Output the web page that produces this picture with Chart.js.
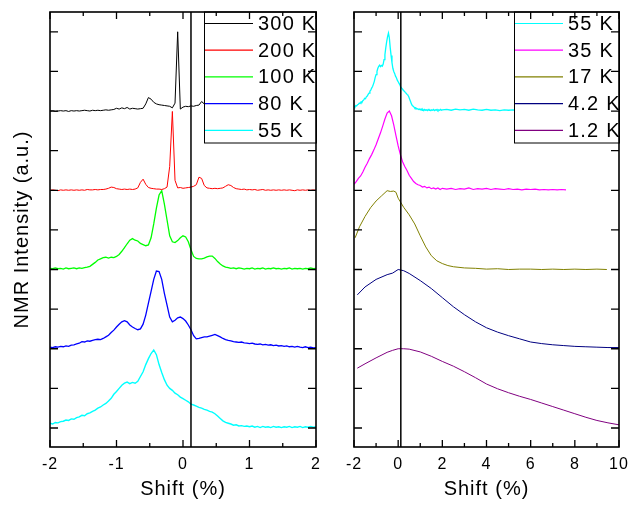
<!DOCTYPE html>
<html><head><meta charset="utf-8">
<script src="https://cdn.jsdelivr.net/npm/chart.js@4.4.1/dist/chart.umd.min.js"></script>
<style>
html,body{margin:0;padding:0;background:#fff;width:641px;height:506px;overflow:hidden}
#wl{position:absolute;left:0;top:0;width:330px;height:506px}
#wr{position:absolute;left:330px;top:0;width:311px;height:506px}
</style></head><body>
<div id="wl"><canvas id="cl"></canvas></div>
<div id="wr"><canvas id="cr"></canvas></div>
<script>
// ---------------- DATA ----------------
const labelsLeft = ['300 K','200 K','100 K','80 K','55 K'];
const labelsRight = ['55 K','35 K','17 K','4.2 K','1.2 K'];
const offsetsLeft = [8,6,4,2,0];
const offsetsRight = [8,6,4,2,0];
const refShift = 0.12;

const shiftLeft = [
-2.00,-1.96,-1.92,-1.88,-1.84,-1.80,-1.76,-1.72,-1.68,-1.64,
-1.60,-1.56,-1.52,-1.48,-1.44,-1.40,-1.36,-1.32,-1.28,-1.24,
-1.20,-1.16,-1.12,-1.08,-1.04,-1.00,-0.96,-0.92,-0.88,-0.84,
-0.80,-0.76,-0.72,-0.68,-0.64,-0.60,-0.56,-0.52,-0.48,-0.44,
-0.40,-0.36,-0.32,-0.28,-0.24,-0.20,-0.16,-0.12,-0.08,-0.04,
0.00,0.04,0.08,0.12,0.16,0.20,0.24,0.28,0.32,0.36,
0.40,0.44,0.48,0.52,0.56,0.60,0.64,0.68,0.72,0.76,
0.80,0.84,0.88,0.92,0.96,1.00,1.04,1.08,1.12,1.16,
1.20,1.24,1.28,1.32,1.36,1.40,1.44,1.48,1.52,1.56,
1.60,1.64,1.68,1.72,1.76,1.80,1.84,1.88,1.92,1.96,
2.00];

const int300K = [
0.00,0.01,-0.01,0.00,0.01,0.00,0.01,-0.01,0.01,0.00,
0.01,0.00,0.01,0.02,0.01,0.00,0.02,0.01,0.02,0.01,
0.02,0.03,0.02,0.03,0.04,0.07,0.05,0.08,0.06,0.09,
0.05,0.07,0.06,0.05,0.06,0.07,0.18,0.34,0.30,0.22,
0.18,0.16,0.15,0.14,0.13,0.12,0.08,0.20,2.00,0.05,
0.10,0.12,0.11,0.13,0.12,0.14,0.15,0.24,0.18,0.12,
0.11,0.12,0.10,0.11,0.12,0.10,0.11,0.09,0.10,0.11,
0.09,0.10,0.11,0.09,0.10,0.08,0.10,0.09,0.08,0.10,
0.09,0.08,0.10,0.09,0.08,0.09,0.07,0.09,0.08,0.09,
0.07,0.08,0.09,0.07,0.08,0.07,0.08,0.06,0.08,0.07,
0.07];

const int200K = [
0.00,0.01,0.00,-0.01,0.01,0.00,0.01,0.00,0.01,0.00,
0.01,0.00,0.01,0.00,0.02,0.01,0.01,0.02,0.01,0.02,
0.02,0.03,0.05,0.08,0.07,0.04,0.03,0.02,0.03,0.02,
0.03,0.02,0.03,0.06,0.20,0.28,0.15,0.07,0.05,0.04,
0.03,0.03,0.02,0.04,0.08,0.60,1.99,0.25,0.06,0.07,
0.05,0.06,0.07,0.08,0.10,0.14,0.33,0.30,0.12,0.06,
0.05,0.04,0.05,0.04,0.05,0.06,0.10,0.14,0.12,0.07,
0.04,0.03,0.02,0.03,0.01,0.02,0.01,0.02,0.00,0.01,
0.02,0.00,0.01,0.00,0.01,0.00,0.01,0.00,0.01,0.00,
0.01,0.00,-0.01,0.01,0.00,0.01,0.00,0.01,0.00,0.01,
0.00];

const int100K = [
0.03,0.02,0.04,0.02,0.03,0.01,0.04,0.02,0.03,0.04,
0.02,0.04,0.03,0.05,0.06,0.08,0.13,0.18,0.24,0.27,
0.30,0.31,0.29,0.31,0.30,0.33,0.38,0.46,0.55,0.65,
0.74,0.78,0.74,0.72,0.66,0.63,0.60,0.62,0.80,1.15,
1.55,1.88,1.99,1.65,1.25,0.85,0.70,0.68,0.73,0.80,
0.85,0.82,0.70,0.50,0.33,0.28,0.27,0.27,0.29,0.32,
0.34,0.34,0.28,0.20,0.14,0.09,0.06,0.05,0.03,0.04,
0.02,0.04,0.03,0.01,0.03,0.02,0.04,0.01,0.03,0.02,
0.04,0.01,0.03,0.02,0.04,0.02,0.03,0.01,0.03,0.02,
0.04,0.01,0.03,0.02,0.03,0.01,0.03,0.02,0.04,0.02,
0.03];

const int80K = [
0.04,0.03,0.05,0.04,0.06,0.05,0.07,0.06,0.09,0.10,
0.12,0.14,0.18,0.17,0.20,0.19,0.21,0.23,0.24,0.23,
0.26,0.30,0.34,0.41,0.47,0.55,0.62,0.68,0.71,0.68,
0.60,0.55,0.51,0.48,0.50,0.62,0.85,1.15,1.45,1.75,
1.96,1.95,1.75,1.40,1.10,0.80,0.68,0.72,0.78,0.80,
0.76,0.70,0.60,0.48,0.33,0.25,0.26,0.28,0.30,0.30,
0.32,0.34,0.36,0.33,0.30,0.26,0.23,0.21,0.20,0.18,
0.17,0.16,0.17,0.15,0.14,0.13,0.14,0.12,0.11,0.12,
0.10,0.11,0.09,0.10,0.08,0.09,0.07,0.08,0.06,0.07,
0.05,0.06,0.04,0.06,0.04,0.03,0.05,0.03,0.04,0.02,
0.03];

const int55K = [
0.12,0.10,0.14,0.13,0.16,0.17,0.20,0.19,0.23,0.22,
0.26,0.28,0.32,0.31,0.36,0.38,0.42,0.45,0.50,0.53,
0.58,0.62,0.68,0.75,0.85,0.92,1.00,1.08,1.13,1.16,
1.12,1.15,1.13,1.18,1.30,1.42,1.60,1.75,1.88,1.97,
1.85,1.60,1.40,1.22,1.08,1.00,0.95,0.88,0.84,0.78,
0.74,0.70,0.66,0.60,0.58,0.55,0.52,0.50,0.47,0.45,
0.42,0.40,0.36,0.30,0.24,0.18,0.14,0.12,0.10,0.07,
0.08,0.05,0.06,0.04,0.05,0.03,0.05,0.02,0.04,0.01,
0.04,0.02,0.03,0.01,0.04,0.02,0.03,0.01,0.03,0.02,
0.04,0.01,0.03,0.02,0.04,0.01,0.03,0.02,0.04,0.02,
0.03];

// right panel: 55 K continues beyond +2 %
const shift55Ext = [2.2,2.4,2.6,2.8,3.0,3.2,3.4,3.6,3.8,4.0,4.2,4.4,4.6,4.8,5.0,5.2,5.4,5.6,5.8,6.0];
const int55Ext = [0.04,0.02,0.05,0.03,0.04,0.02,0.05,0.03,0.02,0.04,0.02,0.03,0.01,0.03,0.02,0.03,0.01,0.02,0.02,0.01];

const shift35K = [
-2.0,-1.9,-1.8,-1.7,-1.6,-1.5,-1.4,-1.3,-1.2,-1.1,
-1.0,-0.9,-0.8,-0.7,-0.6,-0.5,-0.4,-0.3,-0.2,-0.1,
0.0,0.1,0.2,0.3,0.4,0.5,0.6,0.7,0.8,0.9,
1.0,1.1,1.2,1.3,1.4,1.5,1.6,1.7,1.8,1.9,
2.0,
2.2,2.4,2.6,2.8,3.0,3.2,3.4,3.6,3.8,4.0,
4.2,4.4,4.6,4.8,5.0,5.2,5.4,5.6,5.8,6.0,
6.2,6.4,6.6,6.8,7.0,7.2,7.4,7.6];
const int35K = [
0.15,0.22,0.30,0.36,0.46,0.58,0.68,0.80,0.90,1.02,
1.15,1.30,1.45,1.62,1.80,1.95,2.00,1.88,1.65,1.38,
1.12,0.90,0.72,0.60,0.50,0.38,0.30,0.22,0.17,0.14,
0.12,0.08,0.10,0.06,0.08,0.04,0.06,0.03,0.06,0.02,
0.05,
0.03,0.05,0.02,0.04,0.03,0.06,0.02,0.04,0.03,0.05,
0.02,0.04,0.03,0.02,0.04,0.02,0.03,0.01,0.03,0.02,
0.03,0.01,0.02,0.01,0.02,0.01,0.02,0.01];

const shift17K = [-1.95,-1.75,-1.5,-1.25,-1.0,-0.75,-0.5,-0.35,-0.2,-0.1,0.0,0.25,0.5,0.75,1.0,1.25,1.5,1.75,2.0,2.25,2.5,3.0,3.5,4.0,4.5,5.0,5.5,6.0,6.5,7.0,7.5,8.0,8.5,9.0,9.45];
const int17K = [0.80,1.08,1.34,1.56,1.73,1.86,1.99,1.97,1.98,1.95,1.80,1.57,1.38,1.15,0.85,0.57,0.35,0.22,0.15,0.10,0.07,0.04,0.03,0.01,0.02,0.00,0.01,0.01,0.00,0.01,0.00,0.01,0.00,0.01,0.00];

const shiftLowT = [-1.85,-1.5,-1.0,-0.5,-0.25,0.0,0.25,0.5,1.0,1.5,2.0,2.5,3.0,3.5,4.0,4.5,5.0,5.5,6.0,6.5,7.0,7.5,8.0,8.5,9.0,9.5,10.0];
const int4K = [1.36,1.56,1.75,1.87,1.91,2.00,1.97,1.90,1.72,1.52,1.29,1.06,0.86,0.68,0.53,0.42,0.33,0.25,0.17,0.13,0.10,0.08,0.06,0.05,0.04,0.03,0.03];
const int1K = [1.51,1.62,1.77,1.91,1.96,2.00,2.00,1.99,1.92,1.81,1.68,1.56,1.42,1.27,1.11,0.99,0.89,0.80,0.72,0.63,0.54,0.45,0.36,0.27,0.19,0.13,0.08];

// ---------------- STYLE ----------------
const colorsLeft = ['#000000','#ff0000','#00ff00','#0000ff','#00ffff'];
const colorsRight = ['#00ffff','#ff00ff','#808000','#000080','#800080'];
const widthsLeft = [1,1,1.3,1.3,1.4];
const widthsRight = [1.3,1.2,1,1,1];
const FONT = '"Liberation Sans", Arial, sans-serif';
Chart.defaults.font.family = FONT;
Chart.defaults.color = '#000';

function pts(xs, ys, off){ return xs.map((x,i)=>({x:x, y:ys[i]+off})); }
function ds(label, data, color, w){
  return {label, data, borderColor:color, backgroundColor:color, borderWidth:w, pointRadius:0, tension:0, fill:false};
}

const framePlugin = {
  id:'frame',
  beforeDraw(chart){ try{ chart.ctx.letterSpacing = '1px'; }catch(e){} },
  afterDatasetsDraw(chart, args, o){
    const ctx = chart.ctx;
    const {left,right,top,bottom} = chart.chartArea;
    const xs = chart.scales.x, ys = chart.scales.y;
    ctx.save();
    ctx.strokeStyle = '#000';
    // reference line
    const vx = xs.getPixelForValue(o.ref);
    ctx.lineWidth = 1.5;
    ctx.beginPath(); ctx.moveTo(vx, top); ctx.lineTo(vx, bottom); ctx.stroke();
    // legend
    const lx = right - o.legendW, lh = 131;
    ctx.fillStyle = '#fff';
    ctx.fillRect(lx, top, right - lx, lh);
    ctx.lineWidth = 1;
    ctx.strokeRect(lx + 0.5, top, right - lx, lh);
    ctx.font = '20px ' + FONT;
    try{ ctx.letterSpacing = '1.2px'; }catch(e){}
    ctx.textBaseline = 'middle';
    ctx.textAlign = 'left';
    chart.data.datasets.forEach((d,i)=>{
      const yy = top + 11.5 + i * 26.7;
      ctx.strokeStyle = d.borderColor; ctx.lineWidth = 1.2;
      ctx.beginPath(); ctx.moveTo(lx + 1, yy); ctx.lineTo(lx + 49, yy); ctx.stroke();
      ctx.fillStyle = '#000';
      ctx.fillText(d.label, lx + 54, yy + 1);
    });
    // ticks
    ctx.strokeStyle = '#000'; ctx.lineWidth = 1.3;
    xs.ticks.forEach((t,i)=>{
      const px = xs.getPixelForTick(i);
      const len = (Math.abs(t.value / o.majorStep - Math.round(t.value / o.majorStep)) < 1e-6) ? 7 : 4;
      ctx.beginPath();
      ctx.moveTo(px, bottom); ctx.lineTo(px, bottom - len);
      ctx.moveTo(px, top); ctx.lineTo(px, top + len);
      ctx.stroke();
    });
    ys.ticks.forEach((t)=>{
      if (Math.abs(t.value - Math.round(t.value)) > 1e-6) return;
      const py = ys.getPixelForValue(t.value);
      ctx.beginPath();
      ctx.moveTo(left, py); ctx.lineTo(left + 8, py);
      ctx.moveTo(right, py); ctx.lineTo(right - 8, py);
      ctx.stroke();
    });
    // frame
    ctx.lineWidth = 1.6;
    ctx.strokeRect(left, top, right - left, bottom - top);
    ctx.restore();
  }
};

function makeChart(id, datasets, side){
  const isL = side === 'L';
  const major = isL ? 1 : 2;
  return new Chart(document.getElementById(id), {
    type:'line',
    data:{datasets},
    plugins:[framePlugin],
    options:{
      responsive:true, maintainAspectRatio:false, animation:false,
      layout:{padding:{top:12, right: isL ? 14 : 22, left:0, bottom:0}},
      plugins:{legend:{display:false}, tooltip:{enabled:false},
        frame:{ref:refShift, legendW: isL ? 112 : 105, majorStep: major}},
      scales:{
        x:{type:'linear', min:-2, max: isL ? 2 : 10,
           grid:{display:false, drawTicks:false}, border:{display:false},
           ticks:{stepSize: isL ? 0.5 : 1, padding:8, font:{size:16},
             autoSkip:false, maxRotation:0, minRotation:0,
             callback:(v)=> (Math.abs(v/major - Math.round(v/major)) < 1e-6) ? String(Math.round(v)) : ''},
           title:{display:true, text:'Shift (%)', font:{size:20}, padding:{top:0,bottom:5}},
           afterFit:(s)=>{ s.height = 59; }},
        y:{type:'linear', min:-0.48, max:10.5,
           grid:{display:false, drawTicks:false}, border:{display:false},
           ticks:{display:false, stepSize:1},
           title:{display:isL, text:'NMR Intensity (a.u.)', font:{size:20}, padding:{top:10,bottom:0}},
           afterFit:(s)=>{ s.width = isL ? 50 : 24; }}
      }
    }
  });
}

const leftSets = [int300K,int200K,int100K,int80K,int55K].map((arr,i)=>
  ds(labelsLeft[i], pts(shiftLeft, arr, offsetsLeft[i]), colorsLeft[i], widthsLeft[i]));

const rightSets = [
  ds(labelsRight[0], pts(shiftLeft.concat(shift55Ext), int55K.concat(int55Ext), offsetsRight[0]), colorsRight[0], widthsRight[0]),
  ds(labelsRight[1], pts(shift35K, int35K, offsetsRight[1]), colorsRight[1], widthsRight[1]),
  ds(labelsRight[2], pts(shift17K, int17K, offsetsRight[2]), colorsRight[2], widthsRight[2]),
  ds(labelsRight[3], pts(shiftLowT, int4K, offsetsRight[3]), colorsRight[3], widthsRight[3]),
  ds(labelsRight[4], pts(shiftLowT, int1K, offsetsRight[4]), colorsRight[4], widthsRight[4])
];

makeChart('cl', leftSets, 'L');
makeChart('cr', rightSets, 'R');
</script>
</body></html>
